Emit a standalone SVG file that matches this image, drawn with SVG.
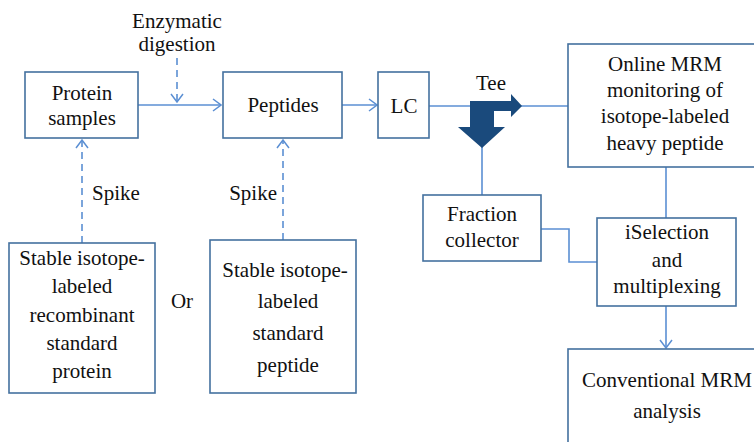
<svg xmlns="http://www.w3.org/2000/svg" width="754" height="442" viewBox="0 0 754 442">
  <defs>
    <marker id="chev" viewBox="0 0 10 14" refX="9" refY="7" markerWidth="10" markerHeight="14" markerUnits="userSpaceOnUse" orient="auto">
      <path d="M1,1 L9,7 L1,13" fill="none" stroke="#5b8fd3" stroke-width="1.5"/>
    </marker>
  </defs>
  <style>
    .box { fill: #ffffff; stroke: #44719f; stroke-width: 1.6; }
    .line { fill: none; stroke: #5b8fd3; stroke-width: 1.6; }
    .dash { fill: none; stroke: #5b8fd3; stroke-width: 1.6; stroke-dasharray: 7 5; }
    text { font-family: "Liberation Serif", "Times New Roman", serif; font-size: 21px; fill: #111111; text-anchor: middle; }
  </style>
  <rect width="754" height="442" fill="#ffffff"/>

  <g id="connectors">
    <line class="line" x1="138" y1="105" x2="221" y2="105" marker-end="url(#chev)"/>
    <line class="dash" x1="177" y1="58" x2="177" y2="102" marker-end="url(#chev)"/>
    <line class="line" x1="342" y1="105" x2="377" y2="105" marker-end="url(#chev)"/>
    <line class="line" x1="429" y1="106" x2="568" y2="106"/>
    <line class="dash" x1="82" y1="243" x2="82" y2="140" marker-end="url(#chev)"/>
    <line class="dash" x1="283" y1="240" x2="283" y2="140" marker-end="url(#chev)"/>
    <line class="line" x1="482" y1="146" x2="482" y2="195"/>
    <line class="line" x1="666" y1="167" x2="666" y2="218"/>
    <polyline class="line" points="541,229 569,229 569,262 597,262"/>
    <line class="line" x1="666" y1="306" x2="666" y2="348" marker-end="url(#chev)"/>
    <polygon id="tee" points="470,101 511,101 511,94 522,106 511,117 511,111 494,111 494,127 505,127 482,148 458,127 470,127" fill="#1a4a7c"/>
  </g>

  <g id="enzymatic-label">
    <text x="177" y="28">Enzymatic</text>
    <text x="177" y="51">digestion</text>
  </g>
  <g id="spike-labels">
    <text x="92" y="200" style="text-anchor:start">Spike</text>
    <text x="277" y="200" style="text-anchor:end">Spike</text>
    <text x="182" y="308">Or</text>
    <text x="491" y="90">Tee</text>
  </g>

  <g id="protein-samples">
    <rect class="box" x="25" y="72" width="113" height="66"/>
    <text x="82" y="100">Protein</text>
    <text x="82" y="125">samples</text>
  </g>
  <g id="peptides">
    <rect class="box" x="223" y="72" width="119" height="66"/>
    <text x="283" y="112">Peptides</text>
  </g>
  <g id="lc">
    <rect class="box" x="378" y="72" width="51" height="66"/>
    <text x="404" y="113">LC</text>
  </g>
  <g id="online-mrm">
    <rect class="box" x="568" y="44" width="200" height="123"/>
    <text x="665" y="71">Online MRM</text>
    <text x="665" y="97">monitoring of</text>
    <text x="665" y="123">isotope-labeled</text>
    <text x="665" y="150">heavy peptide</text>
  </g>
  <g id="fraction-collector">
    <rect class="box" x="423" y="195" width="118" height="66"/>
    <text x="482" y="221">Fraction</text>
    <text x="482" y="247">collector</text>
  </g>
  <g id="iselection">
    <rect class="box" x="597" y="218" width="139" height="88"/>
    <text x="667" y="239">iSelection</text>
    <text x="667" y="267">and</text>
    <text x="667" y="293">multiplexing</text>
  </g>
  <g id="conventional-mrm">
    <rect class="box" x="568" y="349" width="200" height="110"/>
    <text x="667" y="387">Conventional MRM</text>
    <text x="667" y="418">analysis</text>
  </g>
  <g id="protein-standard">
    <rect class="box" x="9" y="243" width="146" height="150"/>
    <text x="82" y="265">Stable isotope-</text>
    <text x="82" y="293">labeled</text>
    <text x="82" y="322">recombinant</text>
    <text x="82" y="350">standard</text>
    <text x="82" y="378">protein</text>
  </g>
  <g id="peptide-standard">
    <rect class="box" x="210" y="240" width="146" height="153"/>
    <text x="285" y="277">Stable isotope-</text>
    <text x="288" y="308">labeled</text>
    <text x="288" y="340">standard</text>
    <text x="288" y="372">peptide</text>
  </g>
</svg>
